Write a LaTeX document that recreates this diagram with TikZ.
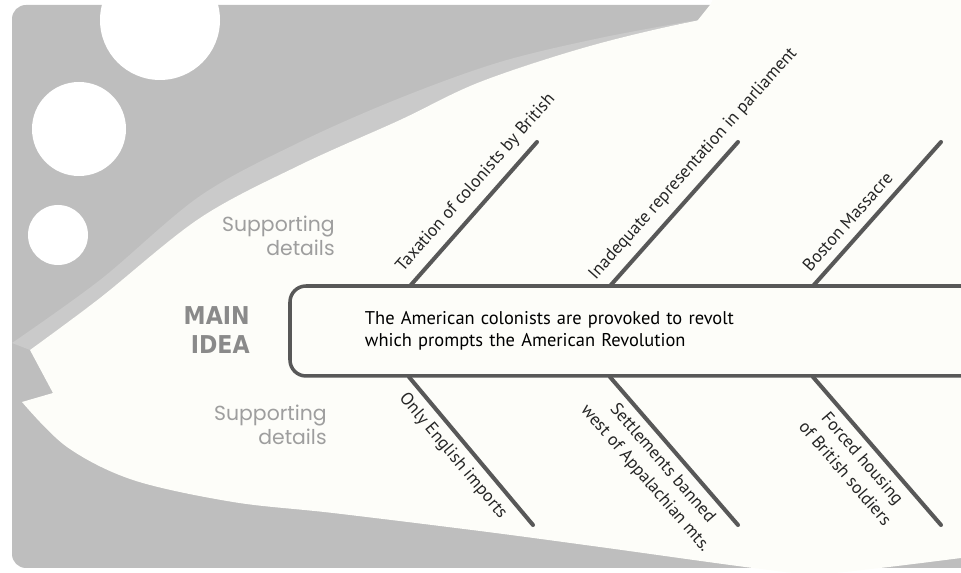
\documentclass[tikz,border=0pt]{standalone}
\usepackage{fontspec}
\setmainfont{PT Sans}
\newfontfamily\geofont{Poppins}
\newfontfamily\condfont{DejaVu Sans Condensed}
\definecolor{fishgray}{RGB}{190,190,190}
\definecolor{bandgray}{RGB}{202,202,202}
\definecolor{fishwhite}{RGB}{253,253,249}
\definecolor{bonegray}{RGB}{88,88,88}
\definecolor{sidegray}{RGB}{158,158,158}
\definecolor{ideagray}{RGB}{138,138,138}

\tikzset{
  bone/.style={draw=bonegray, line width=2.3pt, line cap=round},
  bonelabel/.style={sloped, font=\fontsize{10}{13}\selectfont, text=black!85, align=center, inner sep=1pt},
  sidelabel/.style={font=\geofont\fontsize{11.6}{13.6}\selectfont, text=sidegray, align=right, inner sep=0pt},
  ideatitle/.style={font=\condfont\bfseries\fontsize{14}{16}\selectfont, text=ideagray, align=right, inner sep=0pt},
  ideabox/.style={draw=bonegray, fill=fishwhite, line width=2pt, rounded corners=0.32cm,
    text width=11cm, inner xsep=1.5cm, minimum height=1.8cm, outer sep=0pt, align=left,
    font=\fontsize{10.5}{12.5}\selectfont}
}

\begin{document}
\begin{tikzpicture}[x=0.02cm, y=-0.02cm]
    \useasboundingbox (0,0) rectangle (961,573);
    \clip (0,0) rectangle (961,573);

    % grey card behind the fish
    \fill[fishgray, rounded corners=0.28cm] (12,5) rectangle (1000,568);
    \fill[bandgray] plot[smooth, tension=0.55] coordinates {(12,343) (100,280) (200,196) (300,142) (400,98) (500,62) (600,38) (697,20)}
        -- plot[smooth, tension=0.55] coordinates {(697,20) (590,46) (480,82) (400,120) (300,165) (200,218) (100,298) (30,350)} -- cycle;
    \fill[fishwhite] (710,5) -- (690,30) -- (1000,30) -- (1000,-5) -- (715,-5) -- cycle;

    % fish body
    \fill[fishwhite] plot[smooth, tension=0.55] coordinates {(30,350) (100,298) (200,218) (300,165) (400,120) (480,82) (590,46) (700,20) (800,5) (980,-20)}
        -- (1000,-20) -- (1000,558)
        -- plot[smooth, tension=0.55] coordinates {(961,558) (880,568) (815,574) (753,568) (600,547) (480,531) (333,513) (233,502) (133,480) (67,447) (22,402)}
        -- (53,393) -- cycle;

    % holes
    \fill[white] (160,20) circle[radius=60];
    \fill[white] (79,129) circle[radius=47];
    \fill[white] (58,235) circle[radius=30];

    % side texts
    \node[ideatitle, anchor=east] (title) at (250,330) {MAIN\\IDEA};
    \node[sidelabel, anchor=east] (supup) at (335,236) {Supporting\\details};
    \node[sidelabel, anchor=east] (suplow) at (327,425) {Supporting\\details};

    % main idea
    \node[ideabox, anchor=west] (idea) at (290,331) {The American colonists are provoked to revolt\\which prompts the American Revolution};

    % bones
    \coordinate (up1a) at (410,286);
    \coordinate (up1b) at (537,142);
    \coordinate (up2a) at (610,286);
    \coordinate (up2b) at (738,142);
    \coordinate (up3a) at (813,286);
    \coordinate (up3b) at (941,142);
    \coordinate (lo1a) at (409,377);
    \coordinate (lo1b) at (533,525);
    \coordinate (lo2a) at (610,377);
    \coordinate (lo2b) at (738,525);
    \coordinate (lo3a) at (813,377);
    \coordinate (lo3b) at (941,525);

    \draw[bone] (up1a) -- node[bonelabel, pos=0.63, above=4pt] (tax) {Taxation of colonists by British} (up1b);
    \draw[bone] (up2a) -- node[bonelabel, pos=0.76, above=4pt] (rep) {Inadequate representation in parliament} (up2b);
    \draw[bone] (up3a) -- node[bonelabel, pos=0.37, above=4pt] (bos) {Boston Massacre} (up3b);
    \draw[bone] (lo1a) -- node[bonelabel, pos=0.46, below=3pt] (imp) {Only English imports} (lo1b);
    \draw[bone] (lo2a) -- node[bonelabel, pos=0.51, below=3pt] (set) {Settlements banned\\west of Appalachian mts.} (lo2b);
    \draw[bone] (lo3a) -- node[bonelabel, pos=0.48, below=3pt] (hou) {Forced housing\\of British soldiers} (lo3b);
\end{tikzpicture}
\end{document}
